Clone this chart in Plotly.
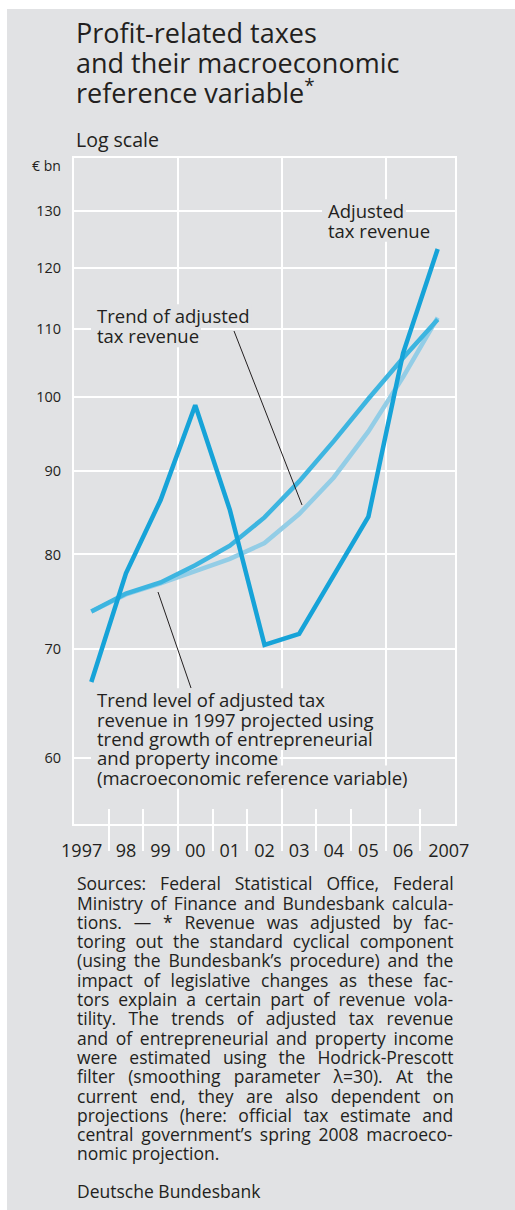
import plotly.graph_objects as go

# ---------------- data ----------------
years = [1997, 1998, 1999, 2000, 2001, 2002, 2003, 2004, 2005, 2006, 2007]
year_labels = ["1997", "98", "99", "00", "01", "02", "03", "04", "05", "06", "2007"]
adjusted_revenue = [66.8, 77.9, 86.4, 98.8, 85.2, 70.4, 71.5, 77.8, 84.4, 106.3, 123.2]
trend_revenue = [73.8, 75.7, 76.9, 78.8, 81.0, 84.3, 88.7, 93.9, 99.7, 105.6, 111.5]
macro_reference = [73.8, 75.6, 76.8, 78.1, 79.5, 81.3, 84.7, 89.2, 95.2, 102.8, 111.8]
y_ticks = [60, 70, 80, 90, 100, 110, 120, 130]

# ---------------- layout geometry ----------------
W, H = 515, 1210
L, R, T, B = 74, 455, 158, 824          # plot area in pixels
BG = "#e1e2e4"
TXT = "#231f20"
FONT = "Open Sans"

# approximate Open Sans advance widths (units per em = 2048)
OS_W = {
    " ": 532, "!": 547, "(": 588, ")": 588, "*": 1118, ",": 502, "-": 659, ".": 545,
    ":": 545, ";": 545, "=": 1171, "’": 395, "—": 2048, "λ": 1100,
    "A": 1305, "B": 1343, "C": 1290, "D": 1484, "E": 1145, "F": 1063, "G": 1473,
    "H": 1518, "I": 597, "J": 543, "K": 1274, "L": 1094, "M": 1827, "N": 1556,
    "O": 1599, "P": 1239, "Q": 1599, "R": 1278, "S": 1112, "T": 1149, "U": 1509,
    "V": 1229, "W": 1905, "X": 1200, "Y": 1145, "Z": 1159,
    "a": 1139, "b": 1237, "c": 975, "d": 1237, "e": 1149, "f": 694, "g": 1116,
    "h": 1257, "i": 518, "j": 518, "k": 1075, "l": 518, "m": 1905, "n": 1257,
    "o": 1237, "p": 1237, "q": 1237, "r": 836, "s": 977, "t": 723, "u": 1257,
    "v": 1024, "w": 1567, "x": 1073, "y": 1028, "z": 979,
}


def text_width(s, size):
    return sum(OS_W.get(c, 1171) for c in s) / 2048 * size


def px(x):
    return (x - L) / (R - L)


def py(y):
    return (B - y) / (B - T)


fig = go.Figure()

fig.add_trace(go.Scatter(x=years, y=macro_reference, mode="lines",
                         line=dict(color="#93cde6", width=4.5), hoverinfo="skip"))
fig.add_trace(go.Scatter(x=years, y=trend_revenue, mode="lines",
                         line=dict(color="#3db5e0", width=4.5), hoverinfo="skip"))
fig.add_trace(go.Scatter(x=years, y=adjusted_revenue, mode="lines",
                         line=dict(color="#16a3d8", width=4.5), hoverinfo="skip"))
# invisible helper trace for the separator axis
fig.add_trace(go.Scatter(x=years, y=trend_revenue, mode="lines", xaxis="x2",
                         line=dict(width=0), opacity=0, hoverinfo="skip"))

boundaries = [y + 0.5 for y in years[:-1]]
# the wide end labels sit a little outward from their year band
label_pos = list(years)
label_pos[0] = years[0] - 0.28
label_pos[-1] = years[-1] + 0.32

xrange_ = [years[0] - 0.5, years[-1] + 0.5]

fig.update_layout(
    width=W, height=H,
    margin=dict(l=L, r=W - R, t=T, b=H - B, pad=0),
    paper_bgcolor=BG, plot_bgcolor=BG,
    showlegend=False,
    font=dict(family=FONT, color=TXT),
    xaxis=dict(
        range=xrange_, tickmode="array", tickvals=label_pos, ticktext=year_labels,
        tickangle=0,
        ticks="outside", ticklen=9, tickcolor="rgba(0,0,0,0)",
        tickfont=dict(size=18, color=TXT, family=FONT),
        showgrid=False, zeroline=False,
        showline=True, linecolor="white", linewidth=2, mirror=True,
        minor=dict(tickmode="array", tickvals=[1999.5, 2002.5, 2005.5],
                   showgrid=True, gridcolor="white", gridwidth=2, ticks=""),
        fixedrange=True,
    ),
    xaxis2=dict(
        range=xrange_, overlaying="x", anchor="y", side="bottom",
        tickmode="array", tickvals=boundaries, showticklabels=False,
        ticks="outside", ticklen=26, tickwidth=2, tickcolor="white",
        minor=dict(tickmode="array", tickvals=boundaries, ticks="inside",
                   ticklen=15, tickwidth=2, tickcolor="white", showgrid=False),
        showgrid=False, zeroline=False, showline=False, fixedrange=True,
    ),
    yaxis=dict(
        type="log", range=[1.7376, 2.1465],
        tickmode="array", tickvals=y_ticks, ticktext=[str(v) for v in y_ticks],
        ticks="outside", ticklen=8, tickcolor="rgba(0,0,0,0)",
        tickfont=dict(size=14.5, color=TXT, family=FONT),
        showgrid=True, gridcolor="white", gridwidth=2, zeroline=False,
        showline=True, linecolor="white", linewidth=2, mirror=True,
        fixedrange=True,
    ),
)

bg_shapes = []
annotations = []


def line_text(text, x, baseline, size, bg=False, anchor="left", shown=None):
    mid = baseline - 0.388 * size
    if bg:
        w = text_width(text, size)
        bg_shapes.append(dict(
            type="rect", xref="paper", yref="paper", layer="above",
            x0=px(x - 4), x1=px(x + w + 4),
            y0=py(mid + 0.62 * size), y1=py(mid - 0.62 * size),
            fillcolor=BG, line=dict(width=0),
        ))
    annotations.append(dict(
        text=shown if shown is not None else text, xref="paper", yref="paper",
        x=px(x), y=py(mid),
        xanchor=anchor, yanchor="middle", showarrow=False,
        font=dict(family=FONT, size=size, color=TXT),
    ))


# title
for i, t in enumerate(["Profit-related taxes", "and their macroeconomic",
                       "reference variable<sup>*</sup>"]):
    line_text(t, 74, 43 + i * 29.5, 27)
line_text("Log scale", 74, 147, 19.5)
line_text("€ bn", 63, 171, 14, anchor="right")

# series labels
LAB = 18.5
for i, t in enumerate(["Adjusted", "tax revenue"]):
    line_text(t, 326, 218 + i * 19.5, LAB, bg=True)
for i, t in enumerate(["Trend of adjusted", "tax revenue"]):
    line_text(t, 95, 323 + i * 20, LAB, bg=True)
for i, t in enumerate(["Trend level of adjusted tax",
                       "revenue in 1997 projected using",
                       "trend growth of entrepreneurial",
                       "and property income",
                       "(macroeconomic reference variable)"]):
    line_text(t, 95, 707 + i * 19.3, LAB, bg=True)

# footnote (justified block)
foot = [
    "Sources: Federal Statistical Office, Federal",
    "Ministry of Finance and Bundesbank calcula-",
    "tions. — * Revenue was adjusted by fac-",
    "toring out the standard cyclical component",
    "(using the Bundesbank’s procedure) and the",
    "impact of legislative changes as these fac-",
    "tors explain a certain part of revenue vola-",
    "tility. The trends of adjusted tax revenue",
    "and of entrepreneurial and property income",
    "were estimated using the Hodrick-Prescott",
    "filter (smoothing parameter λ=30). At the",
    "current end, they are also dependent on",
    "projections (here: official tax estimate and",
    "central government’s spring 2008 macroeco-",
    "nomic projection.",
]
FOOT = 17.5
FOOT_W = 376
for i, t in enumerate(foot):
    shown = t
    if i < len(foot) - 1:
        n_sp = t.count(" ")
        extra = (FOOT_W - text_width(t, FOOT)) / max(n_sp, 1)
        if extra > 0:
            shown = '<span style="word-spacing:%.2fpx">%s</span>' % (extra, t)
    line_text(t, 75, 890 + i * 19.3, FOOT, shown=shown)
line_text("Deutsche Bundesbank", 75, 1198, FOOT)

fig.update_layout(annotations=annotations)

# label backgrounds, leader lines and white page edges
shapes = bg_shapes + [
    dict(type="line", xref="paper", yref="paper", x0=px(234), y0=py(331),
         x1=px(302), y1=py(505), line=dict(color="#231f20", width=1)),
    dict(type="line", xref="paper", yref="paper", x0=px(191), y0=py(688),
         x1=px(158), y1=py(592), line=dict(color="#231f20", width=1)),
    dict(type="rect", xref="paper", yref="paper", x0=px(0), x1=px(W),
         y0=py(9), y1=py(0), fillcolor="white", line=dict(width=0), layer="above"),
    dict(type="rect", xref="paper", yref="paper", x0=px(0), x1=px(7),
         y0=py(H), y1=py(0), fillcolor="white", line=dict(width=0), layer="above"),
]
fig.update_layout(shapes=shapes)

fig.write_html("out.html")
